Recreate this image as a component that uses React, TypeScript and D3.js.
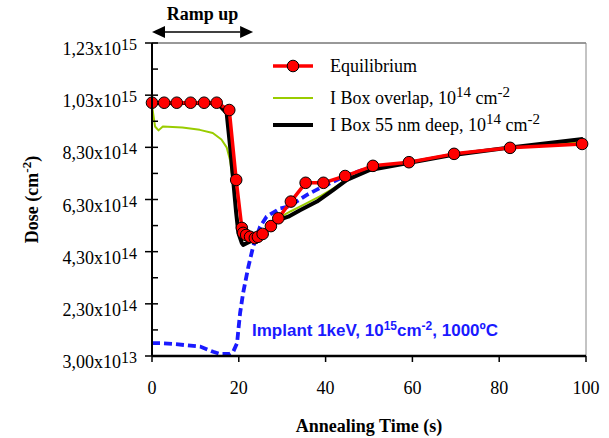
import React from "react";
import * as d3 from "d3";

// ---- data (dose in units of 1e14 cm^-2, time in s) ----
const eqTime = [0, 2.8, 5.7, 8.9, 12, 14.9, 17.8, 19.4, 20.7, 21, 21.7, 22.6, 23.7, 24.4, 25.5, 27.4, 29.1, 32, 35.4, 39.5, 44.5, 50.9, 59.2, 69.6, 82.5, 99.1];
const eqDose = [10.01, 10.01, 10.01, 10.01, 10.01, 10.01, 9.73, 7.05, 5.21, 5.02, 4.94, 4.87, 4.82, 4.87, 4.98, 5.28, 5.58, 6.22, 6.94, 6.94, 7.2, 7.59, 7.73, 8.05, 8.28, 8.43];

const overlapTime = [0, 0.7, 1.5, 2.5, 7, 11, 14, 16, 17.2, 18, 18.8, 19.5, 20.2, 20.8, 22.6, 25.5, 29, 32, 35, 39, 42, 45, 50, 59, 70, 80, 90, 99];
const overlapDose = [9.9, 9.1, 8.95, 9.1, 9.06, 8.97, 8.85, 8.6, 8.3, 7.8, 6.78, 5.78, 5.0, 4.75, 4.85, 5.08, 5.58, 5.85, 6.1, 6.45, 6.75, 7.1, 7.45, 7.72, 8.03, 8.24, 8.4, 8.5];

const deepTime = [0, 15, 17.2, 18, 18.7, 19.4, 19.9, 20.7, 21, 23.3, 25.6, 29.1, 31.4, 34.1, 38, 41.8, 44.9, 50.2, 58.7, 69.4, 79.4, 99.3];
const deepDose = [10.0, 10.0, 9.61, 8.32, 7.05, 5.78, 5.02, 4.63, 4.56, 4.75, 5.0, 5.51, 5.64, 5.89, 6.22, 6.67, 7.05, 7.43, 7.69, 8.01, 8.23, 8.62];

const implantTime = [0, 1.9, 5, 11.1, 14.1, 15.6, 17.9, 18.7, 19.6, 19.9, 20.3, 21, 22.2, 23.3, 24.1, 24.9, 26.4, 29.5, 31.5, 35.6, 38.7, 44.1, 49.5];
const implantDose = [0.79, 0.79, 0.76, 0.66, 0.46, 0.38, 0.38, 0.46, 0.79, 1.3, 1.95, 2.72, 3.72, 4.49, 4.87, 5.26, 5.64, 5.96, 6.03, 6.47, 6.74, 7.17, 7.49];

const xTicks = [0, 20, 40, 60, 80, 100];
const yTicks = [0.3, 2.3, 4.3, 6.3, 8.3, 10.3, 12.3];
const yTickMantissa = ["3,00x10", "2,30x10", "4,30x10", "6,30x10", "8,30x10", "1,03x10", "1,23x10"];
const yTickExp = ["13", "14", "14", "14", "14", "15", "15"];
const yMinorTicks = [1.3, 3.3, 5.3, 7.3, 9.3, 11.3];
const rampRange = [0, 23.3];

const W = 609;
const H = 438;
const L = 152, R = 586, T = 43, B = 356;

const serif = "'Liberation Serif', 'Times New Roman', serif";
const sans = "'Liberation Sans', Arial, sans-serif";

export default function App() {
  const x = d3.scaleLinear().domain([0, 100]).range([L, R]);
  const y = d3.scaleLinear().domain([0.3, 12.3]).range([B, T]);
  const line = (xs: number[], ys: number[]) =>
    d3.line<number>().x((_, i) => x(xs[i])).y((d) => y(d))(ys) || "";

  const ay = 32;
  const ax0 = x(rampRange[0]);
  const ax1 = x(rampRange[1]);
  const ah = 13;

  return (
    <div style={{ position: "absolute", left: 0, top: 0 }}>
      <svg width={W} height={H} viewBox={`0 0 ${W} ${H}`} style={{ display: "block", background: "#fff" }}>
        <rect x={0} y={0} width={W} height={H} fill="#fff" />
        {/* frame */}
        <line x1={L} y1={T} x2={R} y2={T} stroke="#333" strokeWidth={1} />
        <line x1={R} y1={T} x2={R} y2={B} stroke="#888" strokeWidth={1} />

        {/* series */}
        <path d={line(implantTime, implantDose)} fill="none" stroke="#1a1aff" strokeWidth={3.8} strokeDasharray="8,4" />
        <path d={line(overlapTime, overlapDose)} fill="none" stroke="#99cc00" strokeWidth={2} strokeLinejoin="round" />
        <path d={line(deepTime, deepDose)} fill="none" stroke="#000" strokeWidth={4} strokeLinejoin="round" />
        <path d={line(eqTime, eqDose)} fill="none" stroke="#ff0000" strokeWidth={3.5} strokeLinejoin="round" />
        {eqDose.map((d, i) => (
          <circle key={i} cx={x(eqTime[i])} cy={y(d)} r={5.8} fill="#ff0000" stroke="#000" strokeWidth={1} />
        ))}

        {/* axes */}
        <line x1={L} y1={T} x2={L} y2={B} stroke="#000" strokeWidth={2} />
        <line x1={L} y1={B} x2={R} y2={B} stroke="#000" strokeWidth={2.5} />
        {yTicks.map((t, i) => (
          <g key={i}>
            <line x1={L - 7} x2={L + 6} y1={y(t)} y2={y(t)} stroke="#000" strokeWidth={1.5} />
            <text x={137} y={y(t) + 12} textAnchor="end" fontFamily={serif} fontSize={18} fill="#000">
              {yTickMantissa[i]}
              <tspan dy={-5} fontSize={16}>{yTickExp[i]}</tspan>
            </text>
          </g>
        ))}
        {yMinorTicks.map((t, i) => (
          <line key={i} x1={L} x2={L + 6} y1={y(t)} y2={y(t)} stroke="#000" strokeWidth={1.5} />
        ))}
        {xTicks.map((t, i) => (
          <g key={i}>
            <line x1={x(t)} x2={x(t)} y1={B} y2={B + 6} stroke="#000" strokeWidth={1.5} />
            <text x={x(t)} y={394} textAnchor="middle" fontFamily={serif} fontSize={18} fill="#000">{t}</text>
          </g>
        ))}

        {/* axis titles */}
        <text x={(L + R) / 2} y={432} textAnchor="middle" fontFamily={serif} fontSize={18} fontWeight="bold">Annealing Time (s)</text>
        <text transform={`translate(38,${(T + B) / 2}) rotate(-90)`} textAnchor="middle" fontFamily={serif} fontSize={18} fontWeight="bold">
          Dose (cm<tspan dy={-7} fontSize={13}>-2</tspan><tspan dy={7}>)</tspan>
        </text>

        {/* ramp up */}
        <text x={(ax0 + ax1) / 2} y={20} textAnchor="middle" fontFamily={serif} fontSize={18} fontWeight="bold">Ramp up</text>
        <line x1={ax0 + ah} x2={ax1 - ah} y1={ay} y2={ay} stroke="#000" strokeWidth={1.5} />
        <polygon points={`${ax0},${ay} ${ax0 + ah},${ay - 6} ${ax0 + ah},${ay + 6}`} fill="#000" />
        <polygon points={`${ax1},${ay} ${ax1 - ah},${ay - 6} ${ax1 - ah},${ay + 6}`} fill="#000" />

        {/* legend */}
        <line x1={273} x2={313} y1={66} y2={66} stroke="#ff0000" strokeWidth={3.5} />
        <circle cx={293} cy={66} r={5.8} fill="#ff0000" stroke="#000" strokeWidth={1} />
        <text x={330} y={72} fontFamily={serif} fontSize={18}>Equilibrium</text>
        <line x1={273} x2={313} y1={98} y2={98} stroke="#99cc00" strokeWidth={2} />
        <text x={330} y={104} fontFamily={serif} fontSize={18}>
          I Box overlap, 10<tspan dy={-7} fontSize={15}>14</tspan><tspan dy={7}> cm</tspan><tspan dy={-7} fontSize={15}>-2</tspan>
        </text>
        <line x1={273} x2={313} y1={125} y2={125} stroke="#000" strokeWidth={4} />
        <text x={330} y={131} fontFamily={serif} fontSize={18}>
          I Box 55 nm deep, 10<tspan dy={-7} fontSize={15}>14</tspan><tspan dy={7}> cm</tspan><tspan dy={-7} fontSize={15}>-2</tspan>
        </text>

        {/* annotation */}
        <text x={252} y={336} fontFamily={sans} fontSize={17} fontWeight="bold" fill="#1a1aff">
          Implant 1keV, 10<tspan dy={-6} fontSize={12}>15</tspan><tspan dy={6}>cm</tspan><tspan dy={-6} fontSize={12}>-2</tspan><tspan dy={6}>, 1000ºC</tspan>
        </text>
      </svg>
    </div>
  );
}
